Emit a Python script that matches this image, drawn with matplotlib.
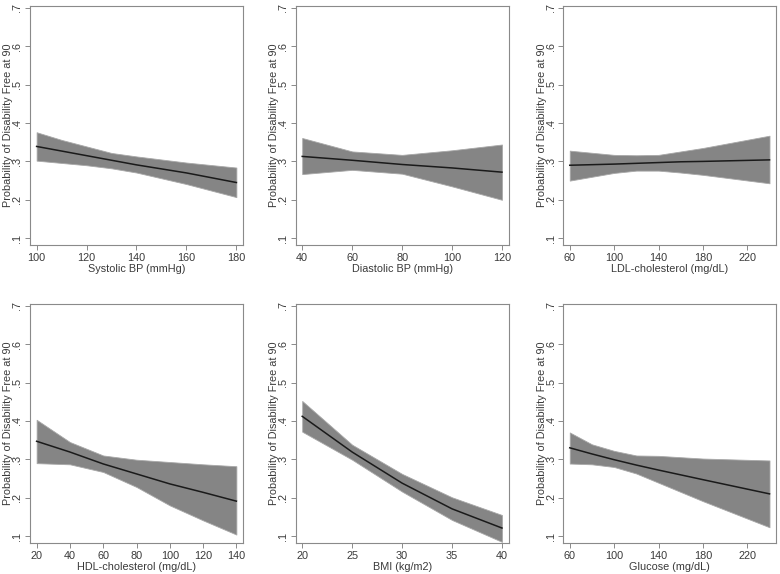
import matplotlib
matplotlib.use("Agg")
import matplotlib.pyplot as plt
from matplotlib.ticker import FuncFormatter

plt.rcParams['font.family'] = ['Liberation Sans', 'DejaVu Sans']

# ---- data ----
sbp_x = [100, 110, 120, 130, 140, 160, 180]
sbp_fit = [0.339, 0.327, 0.315, 0.303, 0.291, 0.270, 0.245]
sbp_hi = [0.376, 0.356, 0.339, 0.322, 0.313, 0.297, 0.284]
sbp_lo = [0.302, 0.296, 0.290, 0.282, 0.271, 0.241, 0.207]

dbp_x = [40, 60, 80, 100, 120]
dbp_fit = [0.313, 0.303, 0.292, 0.283, 0.272]
dbp_hi = [0.361, 0.326, 0.317, 0.329, 0.344]
dbp_lo = [0.267, 0.278, 0.268, 0.235, 0.200]

ldl_x = [60, 100, 120, 140, 160, 180, 240]
ldl_fit = [0.290, 0.293, 0.295, 0.297, 0.299, 0.300, 0.304]
ldl_hi = [0.328, 0.317, 0.316, 0.317, 0.326, 0.335, 0.367]
ldl_lo = [0.250, 0.270, 0.276, 0.276, 0.271, 0.265, 0.243]

hdl_x = [20, 40, 60, 80, 100, 120, 140]
hdl_fit = [0.347, 0.319, 0.288, 0.262, 0.236, 0.214, 0.191]
hdl_hi = [0.403, 0.345, 0.310, 0.299, 0.293, 0.287, 0.282]
hdl_lo = [0.290, 0.287, 0.267, 0.228, 0.180, 0.141, 0.104]

bmi_x = [20, 25, 30, 35, 40]
bmi_fit = [0.412, 0.319, 0.238, 0.171, 0.121]
bmi_hi = [0.452, 0.338, 0.262, 0.201, 0.155]
bmi_lo = [0.372, 0.299, 0.216, 0.142, 0.085]

glu_x = [60, 80, 100, 120, 140, 180, 240]
glu_fit = [0.330, 0.314, 0.299, 0.285, 0.272, 0.247, 0.210]
glu_hi = [0.370, 0.339, 0.322, 0.310, 0.309, 0.302, 0.297]
glu_lo = [0.289, 0.287, 0.280, 0.263, 0.239, 0.191, 0.123]

x_labels = ["Systolic BP (mmHg)", "Diastolic BP (mmHg)", "LDL-cholesterol (mg/dL)",
            "HDL-cholesterol (mg/dL)", "BMI (kg/m2)", "Glucose (mg/dL)"]
x_ticks = [[100, 120, 140, 160, 180], [40, 60, 80, 100, 120], [60, 100, 140, 180, 220],
           [20, 40, 60, 80, 100, 120, 140], [20, 25, 30, 35, 40], [60, 100, 140, 180, 220]]
y_ticks = [0.1, 0.2, 0.3, 0.4, 0.5, 0.6, 0.7]
y_label = "Probability of Disability Free at 90"

panels = [
    (sbp_x, sbp_fit, sbp_hi, sbp_lo),
    (dbp_x, dbp_fit, dbp_hi, dbp_lo),
    (ldl_x, ldl_fit, ldl_hi, ldl_lo),
    (hdl_x, hdl_fit, hdl_hi, hdl_lo),
    (bmi_x, bmi_fit, bmi_hi, bmi_lo),
    (glu_x, glu_fit, glu_hi, glu_lo),
]

fig = plt.figure(figsize=(7.8, 5.74), dpi=100)
lefts = [0.0385, 0.379, 0.722]
bottoms = [0.573, 0.054]
w, h = 0.273, 0.416

txt = '#3a3a3a'
frame = '#8a8a8a'
fs = 7.8

def yfmt(v, pos):
    s = f"{v:.1f}"
    return s[1:] if s.startswith("0") else s

for i, (xs, fit, hi, lo) in enumerate(panels):
    r, c = divmod(i, 3)
    ax = fig.add_axes([lefts[c], bottoms[r], w, h])
    ax.fill_between(xs, lo, hi, color='#858585', edgecolor='#a8a8a8', linewidth=0.6)
    ax.plot(xs, fit, color='#1a1a1a', linewidth=1.1)
    span = xs[-1] - xs[0]
    ax.set_xlim(xs[0] - span * 0.033, xs[-1] + span * 0.033)
    ax.set_ylim(0.082, 0.704)
    ax.set_xticks(x_ticks[i])
    ax.set_yticks(y_ticks)
    ax.yaxis.set_major_formatter(FuncFormatter(yfmt))
    for lab in ax.get_yticklabels():
        lab.set_rotation(90)
        lab.set_va('center')
    ax.tick_params(axis='both', direction='out', length=3.5, width=0.7, color=frame,
                   labelsize=fs, labelcolor=txt, pad=2)
    ax.set_xlabel(x_labels[i], fontsize=fs, color=txt, labelpad=1)
    ax.set_ylabel(y_label, fontsize=fs, color=txt)
    ax.yaxis.set_label_coords(-0.078, 0.5)
    for sp in ax.spines.values():
        sp.set_color(frame)
        sp.set_linewidth(0.8)

fig.savefig("out.png", dpi=100, facecolor='white')
